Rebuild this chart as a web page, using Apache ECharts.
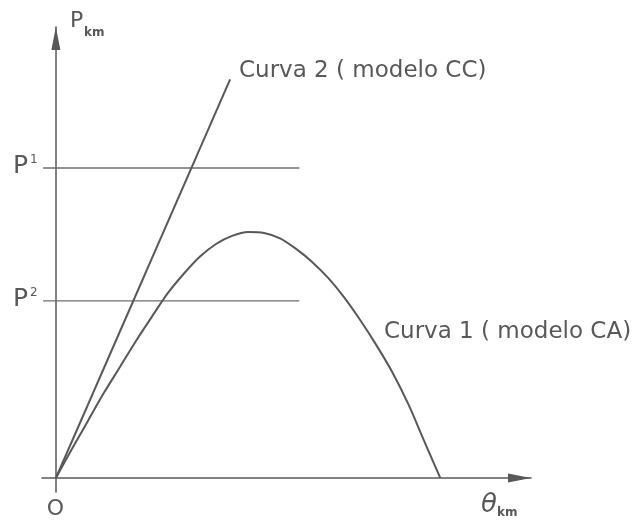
<!DOCTYPE html>
<html>
<head>
<meta charset="utf-8">
<script src="https://cdn.jsdelivr.net/npm/echarts@6/dist/echarts.min.js"></script>
<style>
  html, body { margin: 0; padding: 0; background: #fff; }
  #c { width: 639px; height: 520px; }
</style>
</head>
<body>
<div id="c"></div>
<script>
// Curve 1 (AC model): power vs. angle (degrees), normalised to its peak value
const theta1 = [0, 7.5, 15, 22.5, 30, 37.5, 45, 52.5, 60, 67.5, 75, 82.5, 90,
                97.5, 105, 112.5, 120, 127.5, 135, 142.5, 150, 157.5, 165, 172.5, 180];
const power1 = [0, 0.118, 0.232, 0.346, 0.451, 0.557, 0.656, 0.752, 0.831, 0.900, 0.951, 0.984, 1.000,
                0.996, 0.974, 0.931, 0.878, 0.813, 0.734, 0.642, 0.541, 0.431, 0.301, 0.150, 0];

// Curve 2 (DC model): straight line through the origin
const theta2 = [0, 81.6];
const power2 = [0, 1.62];

// Power levels P¹ and P², drawn over a limited angle span
const levelMarks = ['1', '2'];
const levelValues = [1.26, 0.72];
const levelSpan = [-6, 114];

const ink = '#585858';
const font = 'DejaVu Sans';

const chart = echarts.init(document.getElementById('c'), null, { renderer: 'canvas' });
const zip = (xs, ys) => xs.map((x, i) => [x, ys[i]]);

const arrowAxis = (min, max) => ({
  type: 'value',
  min: min,
  max: max,
  axisLine: {
    show: true,
    onZero: true,
    symbol: ['none', 'triangle'],
    symbolSize: [9, 23],
    symbolOffset: [0, -11.5],
    lineStyle: { color: ink, width: 1.5 }
  },
  axisTick: { show: false },
  axisLabel: { show: false },
  splitLine: { show: false }
});

chart.setOption({
  animation: false,
  backgroundColor: '#ffffff',
  grid: { left: 42, right: 108, top: 27, bottom: 28 },
  xAxis: arrowAxis(-6.5, 222.5),
  yAxis: arrowAxis(-0.057, 1.833),
  series: [
    ...levelValues.map(v => ({
      type: 'line',
      data: levelSpan.map(x => [x, v]),
      symbol: 'none',
      silent: true,
      lineStyle: { color: '#6e6e6e', width: 1.3 }
    })),
    {
      type: 'line',
      name: 'Curva 2',
      data: zip(theta2, power2),
      symbol: 'none',
      lineStyle: { color: ink, width: 2 }
    },
    {
      type: 'line',
      name: 'Curva 1',
      data: zip(theta1, power1),
      symbol: 'none',
      smooth: 0.3,
      lineStyle: { color: ink, width: 2 }
    }
  ]
});

// Text annotations
const txt = (text, x, y, size, extra) => ({
  type: 'text',
  x: x,
  y: y,
  silent: true,
  style: Object.assign({
    text: text,
    fill: ink,
    font: size + 'px "' + font + '"',
    textAlign: 'left',
    textVerticalAlign: 'middle'
  }, extra || {})
});
const bold = size => ({ font: 'bold ' + size + 'px "' + font + '"' });

const graphics = [];
levelValues.forEach((v, i) => {
  const y = chart.convertToPixel({ gridIndex: 0 }, [0, v])[1];
  graphics.push(txt('P', 13, y - 1.5, 25));
  graphics.push(txt(levelMarks[i], 30, y - 8, 12));
});
graphics.push(txt('P', 70, 21, 22));
graphics.push(txt('km', 84, 33, 12, bold(12)));
graphics.push(txt('O', 55.5, 509.5, 22, { textAlign: 'center' }));
graphics.push(txt('θ', 481, 505, 26, { font: 'italic 26px "' + font + '"' }));
graphics.push(txt('km', 497, 513, 12, bold(12)));
graphics.push(txt('Curva 2 ( modelo CC)', 239, 71, 23));
graphics.push(txt('Curva 1 ( modelo CA)', 384, 332, 23));

chart.setOption({ graphic: graphics });
</script>
</body>
</html>
